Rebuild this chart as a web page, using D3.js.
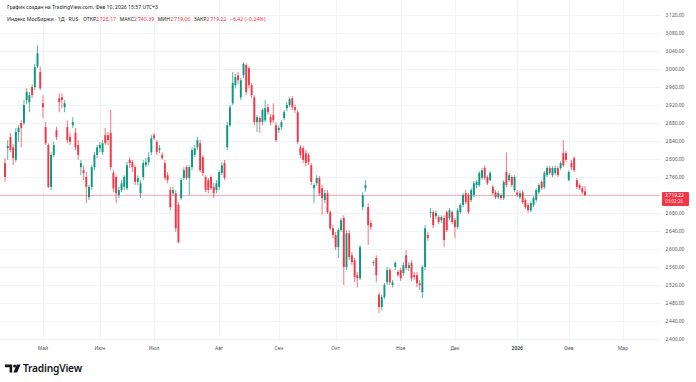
<!DOCTYPE html>
<html><head><meta charset="utf-8">
<script src="https://cdn.jsdelivr.net/npm/d3@7"></script>
<style>
html,body{margin:0;padding:0;background:#fff;}
svg{display:block;font-family:"Noto Sans",Roboto,sans-serif;}
</style></head>
<body>
<svg id="chart" width="696" height="382"></svg>
<script>
// ---- DATA (IMOEX daily) ----
const candleOpen = [2791,2824,2849,2826,2798,2860,2880,2880,2931,2926,
2960,2960,3006,2993,2924,2871,2831,2738,2809,2864,
2935,2937,2915,2871,2849,2875,2858,2831,2782,2775,
2760,2715,2738,2782,2809,2824,2815,2853,2853,2858,
2769,2760,2720,2731,2738,2735,2798,2793,2782,2749,
2724,2760,2786,2793,2815,2853,2838,2820,2809,2791,
2764,2731,2724,2724,2698,2713,2758,2782,2758,2782,
2809,2826,2835,2804,2760,2753,2760,2738,2731,2738,
2769,2791,2826,2875,2924,2964,2986,2937,2986,3009,
3002,2964,2937,2882,2891,2882,2886,2915,2893,2898,
2875,2864,2871,2891,2913,2920,2935,2915,2904,2826,
2824,2813,2809,2786,2735,2746,2758,2735,2709,2724,
2682,2646,2631,2604,2642,2669,2560,2635,2586,2575,
2542,2535,2693,2735,2693,2658,2569,2580,2498,2471,
2493,2526,2553,2520,2560,2549,2553,2546,2586,2558,
2569,2542,2542,2524,2504,2560,2631,2680,2682,2673,
2671,2664,2669,2682,2669,2682,2664,2649,2682,2698,
2724,2720,2709,2720,2742,2742,2758,2780,2760,2753,
2738,2726,2715,2720,2713,2771,2753,2760,2731,2726,
2715,2726,2709,2698,2686,2698,2709,2726,2749,2738,
2764,2780,2764,2769,2780,2780,2813,2813,2753,2791,
2802,2753,2742,2735,2728.17];
const candleHigh = [2802,2842,2858,2833,2869,2875,2886,2931,2957,2949,
2966,3011,3053,3006,2942,2882,2835,2815,2838,2871,
2946,2946,2931,2886,2858,2893,2869,2842,2798,2786,
2771,2742,2786,2815,2831,2838,2842,2869,2860,2909,
2775,2764,2738,2753,2764,2793,2804,2798,2786,2764,
2753,2798,2802,2815,2853,2858,2842,2831,2815,2798,
2771,2738,2738,2731,2704,2758,2782,2786,2786,2826,
2831,2849,2842,2809,2764,2758,2764,2746,2753,2775,
2793,2798,2882,2920,2993,2989,2993,2980,3015,3013,
3006,2969,2942,2898,2895,2913,2931,2922,2900,2924,
2882,2875,2886,2909,2926,2937,2940,2920,2909,2831,
2829,2820,2813,2791,2746,2764,2762,2742,2731,2731,
2686,2653,2638,2646,2669,2675,2642,2642,2593,2580,
2549,2609,2726,2753,2702,2664,2575,2586,2504,2498,
2524,2560,2558,2531,2573,2553,2558,2571,2598,2571,
2575,2549,2549,2531,2564,2653,2638,2691,2686,2686,
2675,2675,2675,2686,2691,2686,2669,2691,2702,2724,
2731,2724,2735,2751,2753,2773,2780,2786,2764,2773,
2742,2731,2729,2724,2753,2815,2769,2764,2764,2731,
2729,2731,2713,2702,2706,2718,2735,2746,2753,2773,
2784,2784,2784,2786,2784,2795,2842,2818,2775,2798,
2806,2758,2746,2740,2740.39];
const candleLow = [2749,2798,2815,2786,2793,2838,2826,2875,2922,2904,
2935,2953,3002,2953,2891,2831,2735,2731,2804,2842,
2904,2913,2904,2835,2831,2869,2820,2798,2764,2753,
2702,2709,2731,2775,2802,2815,2809,2831,2831,2775,
2726,2702,2713,2726,2731,2731,2780,2771,2742,2742,
2713,2753,2782,2786,2809,2842,2809,2813,2798,2753,
2746,2686,2718,2638,2613,2709,2753,2753,2720,2775,
2804,2820,2771,2762,2726,2724,2731,2713,2724,2731,
2764,2753,2820,2871,2920,2957,2966,2931,2980,2942,
2957,2935,2875,2860,2858,2875,2882,2898,2875,2880,
2838,2858,2864,2886,2906,2915,2909,2902,2833,2802,
2791,2784,2786,2742,2702,2740,2718,2675,2702,2678,
2642,2624,2598,2580,2638,2520,2553,2575,2564,2526,
2515,2531,2686,2727,2609,2642,2562,2526,2458,2464,
2489,2520,2520,2515,2553,2538,2529,2540,2553,2551,
2529,2531,2515,2509,2491,2553,2618,2671,2646,2666,
2655,2658,2604,2638,2664,2655,2624,2644,2678,2693,
2700,2678,2704,2715,2735,2738,2753,2753,2742,2751,
2720,2711,2711,2709,2709,2738,2749,2738,2726,2715,
2711,2700,2689,2680,2682,2693,2704,2722,2731,2733,
2760,2764,2760,2764,2760,2775,2782,2793,2751,2775,
2771,2733,2731,2722,2719.06];
const candleClose = [2760,2829,2820,2802,2860,2869,2869,2920,2949,2942,
2942,3004,3035,2957,2915,2835,2738,2809,2831,2849,
2926,2931,2924,2842,2838,2882,2826,2809,2791,2769,
2738,2738,2782,2809,2826,2831,2835,2835,2842,2782,
2735,2724,2731,2746,2760,2786,2791,2782,2749,2758,
2746,2791,2793,2804,2846,2846,2815,2824,2802,2758,
2753,2693,2731,2646,2615,2753,2775,2758,2782,2820,
2824,2842,2775,2769,2731,2731,2735,2724,2746,2771,
2786,2758,2875,2915,2969,2982,2975,2975,3011,2949,
2964,2942,2882,2893,2882,2909,2913,2904,2882,2886,
2842,2869,2882,2904,2920,2933,2915,2909,2838,2809,
2798,2791,2793,2749,2742,2758,2724,2713,2724,2682,
2646,2631,2604,2642,2664,2560,2635,2582,2571,2538,
2535,2604,2720,2742,2653,2649,2571,2542,2471,2493,
2520,2553,2526,2526,2569,2542,2535,2564,2558,2564,
2535,2538,2524,2520,2560,2646,2624,2682,2653,2680,
2660,2671,2620,2642,2686,2660,2649,2686,2698,2720,
2704,2682,2731,2746,2749,2769,2775,2758,2746,2769,
2724,2715,2724,2713,2749,2742,2764,2742,2760,2720,
2724,2704,2693,2686,2702,2713,2731,2742,2735,2769,
2780,2769,2780,2780,2764,2791,2786,2798,2771,2782,
2775,2738,2735,2726,2719.22];

const priceTicks = [2400,2440,2480,2520,2560,2600,2640,2680,2720,2760,2800,2840,2880,2920,2960,3000,3040,3080,3120];
const monthLabels = ["Май","Июн","Июл","Авг","Сен","Окт","Ноя","Дек","2026","Фев","Мар"];
const monthBarIndex = [14,35,55,79,101,122,146,166,189,208,228];
const headerTitle = "График создан на TradingView.com, Фев 10, 2026 15:57 UTC+3";
const symbolName = "Индекс МосБиржи · 1Д · RUS";
const ohlcLabels = ["ОТКР","МАКС","МИН","ЗАКР"];
const lastChange = "−6,42 (−0,24%)";
const countdown = "03:02:26";

// ---- RENDER ----
const svg = d3.select("#chart");
const UP = "#089981", DOWN = "#f23645";
const paneLeft = 0, paneRight = 660, paneTop = 0, paneBottom = 342;
const N = candleClose.length;
const x = d3.scaleLinear().domain([0, N - 1]).range([5, 585]);
const y = d3.scaleLinear().domain([2400, 3120]).range([339, 15]);

const loc = d3.formatLocale({decimal: ",", thousands: "\u2009", grouping: [3], currency: ["", ""]});
const fmt = loc.format(",.2f");

const defs = svg.append("defs");
defs.append("clipPath").attr("id", "pane")
  .append("rect").attr("x", paneLeft).attr("y", paneTop).attr("width", paneRight - paneLeft).attr("height", paneBottom - paneTop);
defs.append("clipPath").attr("id", "axisclip")
  .append("rect").attr("x", paneRight).attr("y", 0).attr("width", 36).attr("height", paneBottom);

// grid
const grid = svg.append("g").attr("clip-path", "url(#pane)");
grid.selectAll("line.h").data(priceTicks).join("line")
  .attr("x1", paneLeft).attr("x2", paneRight)
  .attr("y1", d => Math.round(y(d)) + 0.5).attr("y2", d => Math.round(y(d)) + 0.5)
  .attr("stroke", "#f2f3f6").attr("stroke-width", 1);
grid.selectAll("line.v").data(monthBarIndex).join("line")
  .attr("x1", d => Math.round(x(d)) + 0.5).attr("x2", d => Math.round(x(d)) + 0.5)
  .attr("y1", paneTop).attr("y2", paneBottom)
  .attr("stroke", "#f2f3f6").attr("stroke-width", 1);

// price line
const lastY = y(candleClose[N - 1]);
svg.append("line").attr("x1", paneLeft).attr("x2", paneRight)
  .attr("y1", lastY).attr("y2", lastY)
  .attr("stroke", DOWN).attr("stroke-opacity", 0.55).attr("stroke-width", 0.7);

// candles
const idx = d3.range(N);
const cg = svg.append("g").attr("clip-path", "url(#pane)");
const col = i => candleClose[i] >= candleOpen[i] ? UP : DOWN;
cg.selectAll("line.wick").data(idx).join("line")
  .attr("x1", i => x(i)).attr("x2", i => x(i))
  .attr("y1", i => y(candleHigh[i])).attr("y2", i => y(candleLow[i]))
  .attr("stroke", col).attr("stroke-width", 0.7);
const bw = 1.9;
cg.selectAll("rect.body").data(idx).join("rect")
  .attr("x", i => x(i) - bw / 2)
  .attr("y", i => y(Math.max(candleOpen[i], candleClose[i])))
  .attr("width", bw)
  .attr("height", i => Math.max(0.8, Math.abs(y(candleOpen[i]) - y(candleClose[i]))))
  .attr("fill", col);

// right price axis
const ax = svg.append("g").attr("clip-path", "url(#axisclip)");
ax.selectAll("text").data(priceTicks).join("text")
  .attr("x", 665.5).attr("y", d => y(d)).attr("dy", "0.35em")
  .attr("font-size", 4.9).attr("fill", "#50535e").text(d => fmt(d));

// last price label
const lp = svg.append("g");
lp.append("rect").attr("x", 662).attr("y", lastY - 3.3).attr("width", 27).attr("height", 14).attr("rx", 1).attr("fill", DOWN);
lp.append("text").attr("x", 665).attr("y", lastY).attr("dy", "0.35em").attr("font-size", 4.9).attr("fill", "#fff").text(fmt(candleClose[N - 1]));
lp.append("text").attr("x", 665).attr("y", lastY + 6.3).attr("dy", "0.35em").attr("font-size", 4.6).attr("fill", "#fff").attr("fill-opacity", 0.85).text(countdown);

// time axis
svg.selectAll("text.month").data(monthLabels).join("text")
  .attr("x", (d, i) => x(monthBarIndex[i])).attr("y", 348).attr("dy", "0.35em")
  .attr("text-anchor", "middle").attr("font-size", 5)
  .attr("font-weight", d => /^\d+$/.test(d) ? 700 : 400)
  .attr("fill", "#50535e").text(d => d);

// header
svg.append("text").attr("x", 7).attr("y", 7).attr("dy", "0.35em").attr("font-size", 5.1).attr("fill", "#131722").text(headerTitle);
const leg = svg.append("text").attr("x", 7).attr("y", 19).attr("dy", "0.35em").attr("font-size", 5.2).attr("fill", "#131722");
leg.append("tspan").text(symbolName);
const vals = [candleOpen[N-1], candleHigh[N-1], candleLow[N-1], candleClose[N-1]];
ohlcLabels.forEach((lab, i) => {
  leg.append("tspan").attr("dx", i === 0 ? 4.5 : 3.5).attr("fill", "#131722").text(lab);
  leg.append("tspan").attr("fill", DOWN).text(fmt(vals[i]));
});
leg.append("tspan").attr("dx", 3.5).attr("fill", DOWN).text(lastChange);

// TradingView logo
const logo = svg.append("g").attr("fill", "#131722");
logo.append("path").attr("d", "M5,364.5 H12.2 V372.5 H9.6 V367.3 H5 Z");
logo.append("circle").attr("cx", 14.6).attr("cy", 366.1).attr("r", 1.5);
logo.append("path").attr("d", "M16.8,364.5 H20.5 L17.1,372.5 H13.4 Z");
svg.append("text").attr("x", 23).attr("y", 368.6).attr("dy", "0.35em")
  .attr("font-size", 10.2).attr("font-weight", 600).attr("fill", "#131722")
  .attr("letter-spacing", -0.2).text("TradingView");
</script>
</body></html>
